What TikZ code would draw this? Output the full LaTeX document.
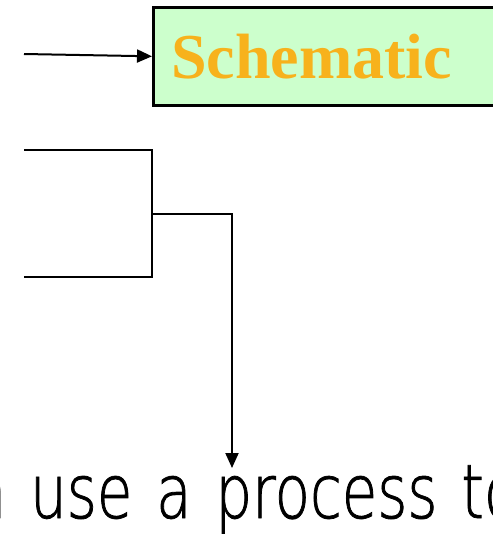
\documentclass[tikz,border=0pt]{standalone}
\usepackage{fontspec}
\setmainfont{Liberation Serif}
\newfontfamily\bodyfont[FakeStretch=0.77,WordSpace=1.3,FakeBold=1]{DejaVu Sans ExtraLight}
\usetikzlibrary{arrows.meta}
\definecolor{boxgreen}{RGB}{204,255,204}
\definecolor{schorange}{RGB}{247,178,28}
\begin{document}
\begin{tikzpicture}[x=1pt,y=-1pt,
  conn/.style={line width=2pt},
  tipped/.style={-{Triangle[length=15pt,width=13pt]}},
  box/.style={draw, line width=2.6pt, fill=boxgreen, minimum height=98pt,
    text width=380pt, align=left, inner xsep=18pt, inner ysep=0pt,
    text=schorange, font=\fontsize{64}{68}\selectfont\bfseries}]
\useasboundingbox (0,0) rectangle (493,536);
\clip (0,0) rectangle (493,536);
\node[box, anchor=north west] (schem) at (152,6) {Schematic};
\coordinate (s1) at (24,54);
\draw[conn,tipped] (s1) -- (schem.west);
\coordinate (b1) at (24,150);
\coordinate (bt) at (152,150);
\coordinate (bb) at (152,277);
\coordinate (b2) at (24,277);
\coordinate (j) at (152,214);
\draw[conn] (b1) -- (bt) -- (bb) -- (b2);
\node[anchor=base west, inner sep=0pt, font=\bodyfont\fontsize{75}{85}\selectfont] (txt) at (-30.5,518) {n use a process to};
\coordinate (tipend) at (232,468);
\draw[conn,tipped] (j) -| (tipend);
\end{tikzpicture}
\end{document}
